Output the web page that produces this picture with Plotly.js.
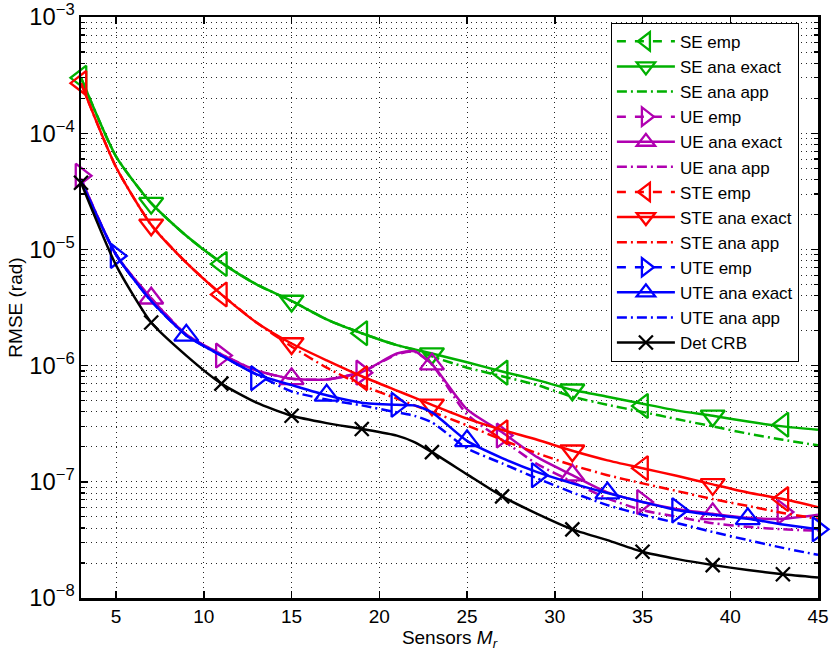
<!DOCTYPE html>
<html><head><meta charset="utf-8">
<script src="https://cdn.plot.ly/plotly-3.0.1.min.js"></script>
<style>html,body{margin:0;padding:0;background:#fff}#chart{width:832px;height:657px}</style>
</head><body><div id="chart"></div>
<script>
// Number of sensors
const M = [3,5,7,9,11,13,15,17,19,21,22,23,25,27,29,31,33,35,37,39,41,43,45];

const SE_exact  = [3.0e-4,6.3e-5,2.5e-5,1.31e-5,7.7e-6,5.0e-6,3.6e-6,2.5e-6,1.9e-6,1.5e-6,1.38e-6,1.27e-6,1.07e-6,8.9e-7,7.5e-7,6.2e-7,5.4e-7,4.7e-7,4.1e-7,3.7e-7,3.3e-7,3.0e-7,2.8e-7];
const SE_app    = [3.0e-4,6.3e-5,2.5e-5,1.31e-5,7.7e-6,5.0e-6,3.6e-6,2.5e-6,1.9e-6,1.5e-6,1.37e-6,1.2e-6,9.6e-7,8.1e-7,6.8e-7,5.4e-7,4.6e-7,4.0e-7,3.45e-7,3.0e-7,2.6e-7,2.3e-7,2.06e-7];
const UE_exact  = [4.06e-5,9.0e-6,3.8e-6,1.85e-6,1.25e-6,9.1e-7,7.7e-7,7.6e-7,8.8e-7,1.27e-6,1.33e-6,1.03e-6,4.2e-7,2.67e-7,1.63e-7,1.14e-7,8.1e-8,6.7e-8,5.8e-8,5.3e-8,4.9e-8,4.8e-8,5.2e-8];
const UE_app    = [4.06e-5,9.0e-6,3.8e-6,1.85e-6,1.25e-6,9.1e-7,7.7e-7,7.6e-7,8.8e-7,1.25e-6,1.32e-6,1.02e-6,3.8e-7,2.3e-7,1.42e-7,1.0e-7,7.2e-8,5.7e-8,5.0e-8,4.4e-8,4.1e-8,3.9e-8,3.8e-8];
const STE_exact = [2.7e-4,5.1e-5,1.63e-5,7.7e-6,4.1e-6,2.35e-6,1.55e-6,1.11e-6,8.1e-7,6.1e-7,5.3e-7,4.6e-7,3.5e-7,2.8e-7,2.3e-7,1.85e-7,1.53e-7,1.31e-7,1.12e-7,9.5e-8,8.1e-8,7.1e-8,6.05e-8];
const STE_app   = [2.7e-4,5.1e-5,1.63e-5,7.7e-6,4.1e-6,2.35e-6,1.46e-6,9.6e-7,6.8e-7,5.2e-7,4.55e-7,4.0e-7,3.06e-7,2.3e-7,1.76e-7,1.39e-7,1.14e-7,9.7e-8,8.3e-8,7.1e-8,6.2e-8,5.4e-8,4.8e-8];
const UTE_exact = [3.9e-5,9.0e-6,3.6e-6,1.82e-6,1.22e-6,8.4e-7,6.8e-7,5.55e-7,4.8e-7,4.6e-7,4.55e-7,3.96e-7,2.25e-7,1.6e-7,1.21e-7,9.7e-8,8.0e-8,6.7e-8,5.7e-8,5.2e-8,4.8e-8,4.3e-8,3.9e-8];
const UTE_app   = [3.9e-5,9.0e-6,3.6e-6,1.82e-6,1.22e-6,8.4e-7,6.0e-7,5.1e-7,4.55e-7,3.96e-7,3.7e-7,3.25e-7,1.94e-7,1.44e-7,1.07e-7,8.1e-8,6.3e-8,5.2e-8,4.4e-8,3.7e-8,3.15e-8,2.7e-8,2.35e-8];
const CRB       = [3.75e-5,7.3e-6,2.35e-6,1.22e-6,7.0e-7,4.8e-7,3.7e-7,3.2e-7,2.85e-7,2.5e-7,2.2e-7,1.8e-7,1.16e-7,7.5e-8,5.3e-8,3.9e-8,3.15e-8,2.5e-8,2.16e-8,1.92e-8,1.74e-8,1.6e-8,1.5e-8];

// Empirical results (simulated points)
const empM_A  = [3,11,19,27,35,43];
const SE_emp  = [3.0e-4,7.5e-6,1.9e-6,8.7e-7,4.5e-7,3.1e-7];
const UE_emp  = [4.3e-5,1.22e-6,8.7e-7,2.5e-7,6.7e-8,5.5e-8];
const STE_emp = [2.7e-4,4.1e-6,7.8e-7,2.67e-7,1.31e-7,7.1e-8];
const empM_B  = [5,13,21,29,37,45];
const UTE_emp = [8.8e-6,7.8e-7,4.6e-7,1.14e-7,5.7e-8,3.9e-8];

// Marker positions on analytic curves
const exactM_A = [7,15,23,31,39];
const exactM_B = [9,17,25,33,41];
const crbM     = [3,7,11,15,19,23,27,31,35,39,43];

const legendNames = ['SE emp','SE ana exact','SE ana app','UE emp','UE ana exact','UE ana app',
  'STE emp','STE ana exact','STE ana app','UTE emp','UTE ana exact','UTE ana app','Det CRB'];

const GREEN='rgb(0,176,0)', MAG='rgb(176,0,176)', RED='rgb(255,0,0)', BLUE='rgb(0,0,255)', BLACK='rgb(0,0,0)';
const LW = 2.5, MLW = 2.3, MS = 21;
const DASHDOT = '10px,4px,2px,4px';

function pick(at, ys){ return at.map(a => ys[M.indexOf(a)]); }
function lineTrace(y, color, dash, name, rank, legend){
  return {x:M, y:y, mode:'lines', name:name, legendrank:rank, showlegend:!!legend,
    line:{color:color, width:LW, dash:dash, shape:'spline', smoothing:0.6}, hoverinfo:'skip'};
}
function markerTrace(x, y, color, symbol, size){
  return {x:x, y:y, mode:'markers', showlegend:false, cliponaxis:false, hoverinfo:'skip',
    marker:{symbol:symbol, size:size, color:color, line:{color:color, width:MLW}}};
}
function legendTrace(name, color, dash, symbol, size, rank){
  return {x:[null], y:[null], mode:'lines+markers', name:name, legendrank:rank,
    line:{color:color, width:LW, dash:dash}, marker:{symbol:symbol, size:size, color:color, line:{color:color, width:MLW}}};
}

const groups = [
  {ex:SE_exact, ap:SE_app, emX:empM_A, em:SE_emp, exM:exactM_A, c:GREEN, es:'triangle-left-open', xs:'triangle-down-open', n:0},
  {ex:UE_exact, ap:UE_app, emX:empM_A, em:UE_emp, exM:exactM_A, c:MAG, es:'triangle-right-open', xs:'triangle-up-open', n:3},
  {ex:STE_exact, ap:STE_app, emX:empM_A, em:STE_emp, exM:exactM_A, c:RED, es:'triangle-left-open', xs:'triangle-down-open', n:6},
  {ex:UTE_exact, ap:UTE_app, emX:empM_B, em:UTE_emp, exM:exactM_B, c:BLUE, es:'triangle-right-open', xs:'triangle-up-open', n:9}
];

const traces = [];
groups.forEach(g => {
  traces.push(lineTrace(g.ex, g.c, 'solid', legendNames[g.n+1], g.n+2, false));
  traces.push(lineTrace(g.ap, g.c, DASHDOT, legendNames[g.n+2], g.n+3, true));
  traces.push(markerTrace(g.exM, pick(g.exM, g.ex), g.c, g.xs, MS));
  traces.push(markerTrace(g.emX, g.em, g.c, g.es, MS));
  traces.push(legendTrace(legendNames[g.n], g.c, 'dash', g.es, MS, g.n+1));
  traces.push(legendTrace(legendNames[g.n+1], g.c, 'solid', g.xs, MS, g.n+2));
});
traces.push(lineTrace(CRB, BLACK, 'solid', legendNames[12], 13, false));
traces.push(markerTrace(crbM, pick(crbM, CRB), BLACK, 'x-thin-open', 14));
traces.push(legendTrace(legendNames[12], BLACK, 'solid', 'x-thin-open', 14, 13));

const FONT = 'Liberation Sans, Arial, Helvetica, sans-serif';
const GRID = 'rgba(0,0,0,0.85)';
const layout = {
  width:832, height:657,
  margin:{l:81, r:14, t:17, b:59},
  paper_bgcolor:'#fff', plot_bgcolor:'#fff',
  font:{family:FONT, size:19, color:'#000'},
  showlegend:true,
  legend:{x:0.719, y:0.99, xanchor:'left', yanchor:'top', bgcolor:'#fff', bordercolor:'#000', borderwidth:1,
    font:{family:FONT, size:17, color:'#000'}, itemwidth:58, tracegroupgap:0, traceorder:'normal'},
  xaxis:{range:[3,45], tick0:0, dtick:5, ticks:'inside', ticklen:7, tickwidth:1.5, tickcolor:'#000',
    showline:true, linewidth:2.5, linecolor:'#000', mirror:'ticks', zeroline:false,
    showgrid:true, gridcolor:GRID, gridwidth:1, griddash:'1px,4px',
    tickfont:{family:FONT, size:19},
    title:{text:'Sensors <i>M<sub>r</sub></i>', font:{family:FONT, size:19}, standoff:5}},
  yaxis:{type:'log', range:[-8,-2.9995], dtick:1, exponentformat:'power', showexponent:'all',
    ticklabeloverflow:'allow',
    ticks:'inside', ticklen:7, tickwidth:1.5, tickcolor:'#000',
    showline:true, linewidth:2.5, linecolor:'#000', mirror:'ticks', zeroline:false,
    showgrid:true, gridcolor:GRID, gridwidth:1, griddash:'1px,4px',
    minor:{dtick:'D1', ticks:'inside', ticklen:4, tickwidth:1.2, tickcolor:'#000', showgrid:true, gridcolor:GRID, gridwidth:1, griddash:'1px,4px'},
    tickfont:{family:FONT, size:19},
    title:{text:'RMSE (rad)', font:{family:FONT, size:19}, standoff:2}}
};

Plotly.newPlot('chart', traces, layout, {staticPlot:true, displayModeBar:false});
</script>
</body></html>
